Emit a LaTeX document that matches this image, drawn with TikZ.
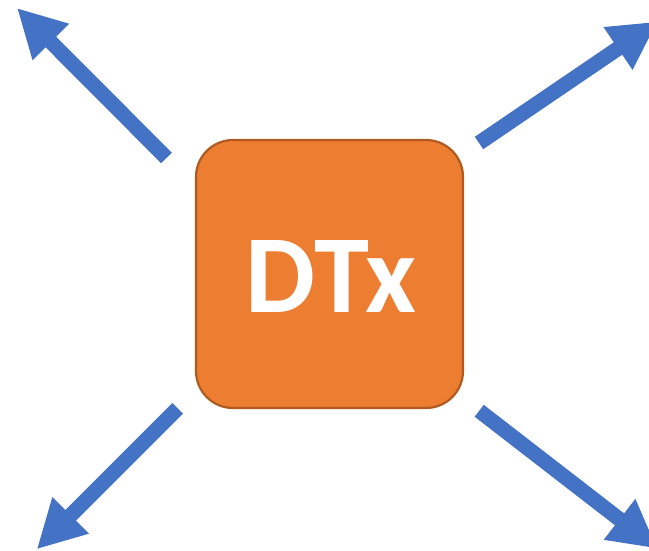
\documentclass[tikz,border=0pt]{standalone}
\usepackage{fontspec}
\setmainfont{Carlito}
\usetikzlibrary{arrows.meta}
\definecolor{boxorange}{HTML}{ED7D31}
\definecolor{boxedge}{HTML}{AE5A21}
\definecolor{arrowblue}{HTML}{4472C4}
\tikzset{
  bigarrow/.style={draw=arrowblue, line width=15pt, -{Triangle[length=48pt,width=48pt]}, arrowblue},
  dtxbox/.style={draw=boxedge, fill=boxorange, line width=2.2pt, rounded corners=37pt,
    minimum width=267pt, minimum height=268pt, inner sep=0pt},
  dtxtext/.style={text=white, font=\fontsize{111}{111}\selectfont\bfseries, inner sep=0pt, text depth=0pt}
}
\begin{document}
\begin{tikzpicture}[x=1pt,y=-1pt]
\useasboundingbox (0,0) rectangle (649,551);
\clip (0,0) rectangle (649,551);
\node[dtxbox] (box) at (329.5,274) {};
\node[dtxtext] (label) at (331,276.5) {DTx};
\coordinate (tl0) at (166.5,158);
\coordinate (tl1) at (17,8);
\coordinate (tr0) at (479,143);
\coordinate (tr1) at (657.7,21.5);
\coordinate (bl0) at (177.7,408.3);
\coordinate (bl1) at (36.7,549.3);
\coordinate (br0) at (479.2,410.8);
\coordinate (br1) at (657.5,548.7);
\draw[bigarrow] (tl0) -- (tl1);
\draw[bigarrow] (tr0) -- (tr1);
\draw[bigarrow] (bl0) -- (bl1);
\draw[bigarrow] (br0) -- (br1);
\end{tikzpicture}
\end{document}
